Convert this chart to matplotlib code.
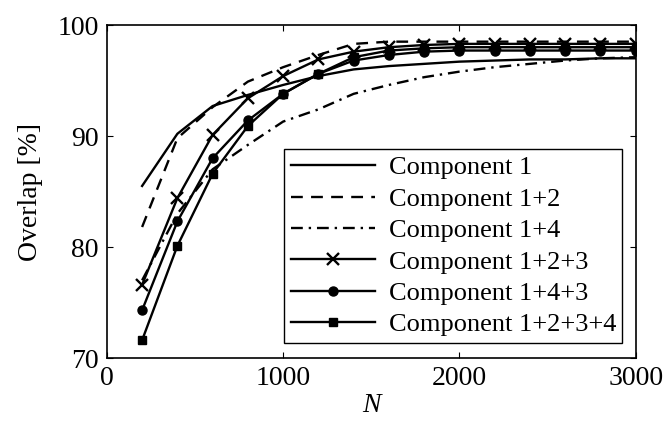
import numpy as np
import matplotlib
matplotlib.use("Agg")
import matplotlib.pyplot as plt

plt.rcParams['font.family'] = ['Liberation Serif', 'DejaVu Serif']

# 数据: N 与各组合的重叠率
N = [200, 400, 600, 800, 1000, 1200, 1400, 1600, 1800, 2000, 2200, 2400, 2600, 2800, 3000]
c1 = [85.5, 90.2, 92.7, 93.7, 94.6, 95.4, 96.0, 96.3, 96.5, 96.7, 96.8, 96.9, 96.9, 97.0, 97.0]
c12 = [81.8, 89.8, 92.6, 94.9, 96.2, 97.3, 98.3, 98.5, 98.5, 98.5, 98.5, 98.5, 98.5, 98.5, 98.5]
c14 = [77.0, 83.0, 87.0, 89.2, 91.3, 92.4, 93.8, 94.6, 95.3, 95.8, 96.2, 96.5, 96.8, 97.0, 97.1]
c123 = [76.6, 84.4, 90.1, 93.4, 95.4, 96.9, 97.6, 98.0, 98.2, 98.3, 98.3, 98.3, 98.3, 98.3, 98.3]
c143 = [74.3, 82.3, 88.0, 91.4, 93.8, 95.6, 96.8, 97.3, 97.6, 97.7, 97.7, 97.7, 97.7, 97.7, 97.7]
c1234 = [71.6, 80.1, 86.6, 90.9, 93.8, 95.6, 97.1, 97.7, 97.9, 98.0, 98.0, 98.0, 98.0, 98.0, 98.0]
labels = ['Component 1', 'Component 1+2', 'Component 1+4',
          'Component 1+2+3', 'Component 1+4+3', 'Component 1+2+3+4']

fig = plt.figure(figsize=(6.72, 4.29), dpi=100)
ax = fig.add_axes([0.159, 0.1655, 0.787, 0.7762])

lw = 1.7
ax.plot(N, c1, color='k', lw=lw, label=labels[0])
ax.plot(N, c12, color='k', lw=lw, dashes=(5, 3.5), label=labels[1])
ax.plot(N, c14, color='k', lw=lw, dashes=(5, 2.5, 1, 2.5), label=labels[2])
ax.plot(N, c123, color='k', lw=lw, marker='x', ms=9, mew=1.7, label=labels[3])
ax.plot(N, c143, color='k', lw=lw, marker='o', ms=6.5, label=labels[4])
ax.plot(N, c1234, color='k', lw=lw, marker='s', ms=6, label=labels[5])

ax.set_xlim(0, 3000)
ax.set_ylim(70, 100)
ax.set_xticks([0, 1000, 2000, 3000])
ax.set_yticks([70, 80, 90, 100])
ax.tick_params(direction='in', top=True, right=True, length=4, width=0.8,
               labelsize=20, pad=6)
for s in ax.spines.values():
    s.set_linewidth(1.2)
ax.set_xlabel('N', fontsize=20, fontstyle='italic', labelpad=1)
ax.set_ylabel('Overlap [%]', fontsize=20, labelpad=10)

leg = ax.legend(loc='lower right', bbox_to_anchor=(0.975, 0.045), fontsize=19,
                frameon=True, fancybox=False, edgecolor='k', framealpha=1,
                handlelength=3.2, labelspacing=0.3, borderpad=0.25,
                handletextpad=0.5, borderaxespad=0)
leg.get_frame().set_linewidth(1.0)

fig.savefig('out.png', dpi=100)
